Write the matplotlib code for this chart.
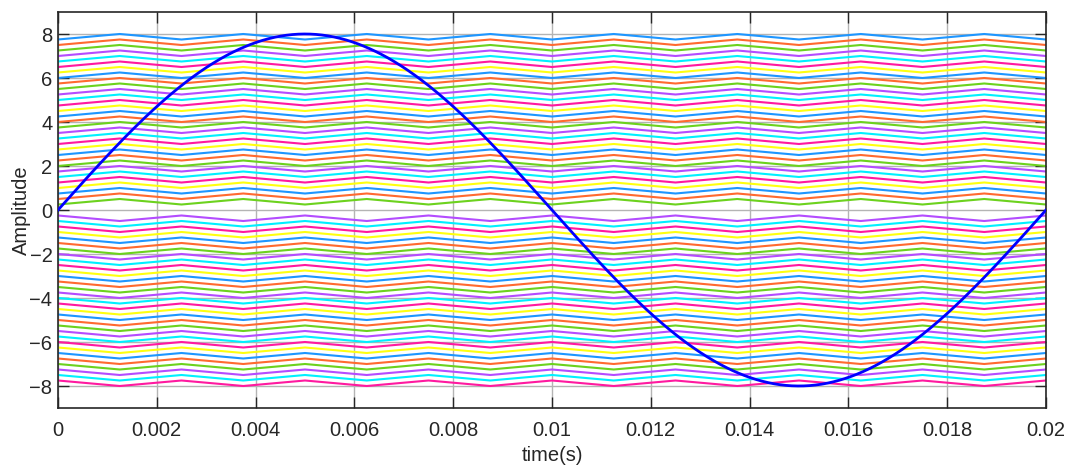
import numpy as np
import matplotlib
matplotlib.use("Agg")
import matplotlib.pyplot as plt

plt.rcParams["font.family"] = ["Liberation Sans", "DejaVu Sans"]

# reference sine wave
sine_amplitude = 8
sine_freq = 50          # Hz
t_end = 0.02

# triangular carriers: vertex times, 0 = trough, 1 = peak (upper carriers)
carrier_t = [0, 0.00125, 0.0025, 0.00375, 0.005, 0.00625, 0.0075, 0.00875, 0.01,
             0.01125, 0.0125, 0.01375, 0.015, 0.01625, 0.0175, 0.01875, 0.02]
carrier_shape = [0, 1, 0, 1, 0, 1, 0, 1, 0, 1, 0, 1, 0, 1, 0, 1, 0]
carrier_height = 0.25

# carrier bases, listed from top to bottom
upper_bases = [7.75, 7.5, 7.25, 7.0, 6.75, 6.5, 6.25, 6.0, 5.75, 5.5, 5.25, 5.0,
               4.75, 4.5, 4.25, 4.0, 3.75, 3.5, 3.25, 3.0, 2.75, 2.5, 2.25, 2.0,
               1.75, 1.5, 1.25, 1.0, 0.75, 0.5, 0.25]
lower_tops = [-0.25, -0.5, -0.75, -1.0, -1.25, -1.5, -1.75, -2.0, -2.25, -2.5,
              -2.75, -3.0, -3.25, -3.5, -3.75, -4.0, -4.25, -4.5, -4.75, -5.0,
              -5.25, -5.5, -5.75, -6.0, -6.25, -6.5, -6.75, -7.0, -7.25, -7.5, -7.75]

carrier_colors = ["#1e96ff", "#ff6a30", "#6cd21e", "#b44cff", "#00f0ff", "#ff1aa0", "#ffff10"]

xticks = [0, 0.002, 0.004, 0.006, 0.008, 0.01, 0.012, 0.014, 0.016, 0.018, 0.02]
xtick_labels = ["0", "0.002", "0.004", "0.006", "0.008", "0.01", "0.012", "0.014",
                "0.016", "0.018", "0.02"]
yticks = [-8, -6, -4, -2, 0, 2, 4, 6, 8]

fig = plt.figure(figsize=(10.7, 4.65), dpi=100)
ax = fig.add_axes([58 / 1070, 57 / 465, 988 / 1070, 396 / 465])

shape = np.array(carrier_shape, dtype=float)
i = 0
for base in upper_bases:
    ax.plot(carrier_t, base + carrier_height * shape,
            color=carrier_colors[i % 7], lw=1.5, zorder=2)
    i += 1
for top in lower_tops:
    ax.plot(carrier_t, top - carrier_height * shape,
            color=carrier_colors[i % 7], lw=1.5, zorder=2)
    i += 1

t = np.linspace(0, t_end, 1000)
ax.plot(t, sine_amplitude * np.sin(2 * np.pi * sine_freq * t), color="#0000ff", lw=2, zorder=3)

ax.set_xlim(0, 0.02)
ax.set_ylim(-9, 9)
ax.set_xticks(xticks)
ax.set_xticklabels(xtick_labels)
ax.set_yticks(yticks)
ax.grid(True, color="#b4b4b4", lw=1)
ax.set_axisbelow(True)
ax.tick_params(direction="in", length=8, width=1.0, top=True, right=True,
               labelsize=14.5, colors="#262626")
ax.tick_params(axis="x", pad=9)
ax.tick_params(axis="y", pad=4)
for s in ax.spines.values():
    s.set_color("#262626")
    s.set_linewidth(1.2)

ax.set_xlabel("time(s)", fontsize=14.5, color="#262626", labelpad=5)
ax.set_ylabel("Amplitude", fontsize=14.5, color="#262626", labelpad=-1)

fig.savefig("out.png", dpi=100)
